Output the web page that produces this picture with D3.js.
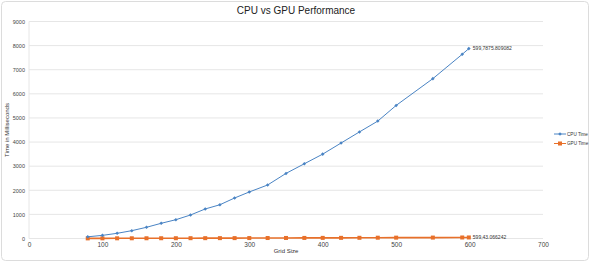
<!DOCTYPE html>
<html>
<head>
<meta charset="utf-8">
<script src="https://cdn.jsdelivr.net/npm/d3@7"></script>
<style>
  body { margin: 0; background: #fff; }
  text { font-family: "Liberation Sans", Arial, sans-serif; }
</style>
</head>
<body>
<svg id="chart" width="593" height="264"></svg>
<script>
const gridSizes = [80, 100, 120, 140, 160, 180, 200, 220, 240, 260, 280, 300, 325, 350, 375, 400, 425, 450, 475, 500, 550, 590, 599];
const cpuTimes = [70, 130, 215, 325, 465, 630, 780, 975, 1225, 1400, 1680, 1930, 2220, 2700, 3100, 3500, 3960, 4420, 4870, 5520, 6630, 7640, 7875.809082];
const gpuTimes = [5, 7, 8, 9, 10, 11, 12, 13, 14, 15, 16, 18, 20, 22, 24, 26, 27, 29, 33, 35, 38, 42, 43.066242];
const xTicks = [0, 100, 200, 300, 400, 500, 600, 700];
const yTicks = [0, 1000, 2000, 3000, 4000, 5000, 6000, 7000, 8000, 9000];

const series = [
  { name: 'CPU Time', values: cpuTimes, color: '#4a84c4', marker: 'diamond' },
  { name: 'GPU Time', values: gpuTimes, color: '#e8702a', marker: 'square' }
];

const svg = d3.select('#chart');

// outer frame
svg.append('rect')
  .attr('x', 1.5).attr('y', 1.5)
  .attr('width', 587).attr('height', 259)
  .attr('rx', 4)
  .attr('fill', '#fff')
  .attr('stroke', '#dcdcdc');

const x = d3.scaleLinear().domain([0, 700]).range([29, 543]);
const y = d3.scaleLinear().domain([0, 9000]).range([238.5, 21.5]);

// horizontal grid
svg.append('g')
  .selectAll('line')
  .data(yTicks)
  .join('line')
  .attr('x1', x(0)).attr('x2', x(700))
  .attr('y1', d => y(d)).attr('y2', d => y(d))
  .attr('stroke', '#e6e6e6')
  .attr('stroke-width', 1);

svg.append('line')
  .attr('x1', x(0)).attr('x2', x(0))
  .attr('y1', y(9000)).attr('y2', y(0))
  .attr('stroke', '#e6e6e6');

// axes (labels only)
const yAxis = svg.append('g')
  .attr('transform', `translate(${x(0)},0)`)
  .call(d3.axisLeft(y).tickValues(yTicks).tickFormat(d3.format('d')).tickSize(0).tickPadding(4));
yAxis.select('.domain').remove();
yAxis.selectAll('text').attr('font-size', 5.5).attr('fill', '#444')
  .attr('font-family', '"Liberation Sans", Arial, sans-serif');

const xAxis = svg.append('g')
  .attr('transform', `translate(0,${y(0)})`)
  .call(d3.axisBottom(x).tickValues(xTicks).tickFormat(d3.format('d')).tickSize(0).tickPadding(4));
xAxis.select('.domain').remove();
xAxis.selectAll('text').attr('font-size', 6.5).attr('fill', '#444')
  .attr('font-family', '"Liberation Sans", Arial, sans-serif');

// titles
svg.append('text')
  .attr('x', 296).attr('y', 13.5)
  .attr('text-anchor', 'middle')
  .attr('font-size', 10)
  .attr('fill', '#222')
  .text('CPU vs GPU Performance');

svg.append('text')
  .attr('x', 286).attr('y', 253)
  .attr('text-anchor', 'middle')
  .attr('font-size', 6)
  .attr('fill', '#333')
  .text('Grid Size');

svg.append('text')
  .attr('transform', 'translate(9,130) rotate(-90)')
  .attr('text-anchor', 'middle')
  .attr('font-size', 6)
  .attr('fill', '#333')
  .text('Time in Milliseconds');

const line = d3.line()
  .x((d, i) => x(gridSizes[i]))
  .y(d => y(d));

const diamond = d3.symbol().type(d3.symbolDiamond2 || d3.symbolDiamond).size(8);

function drawMarker(sel, s, cx, cy) {
  if (s.marker === 'square') {
    sel.append('rect')
      .attr('x', cx - 2).attr('y', cy - 2)
      .attr('width', 4).attr('height', 4)
      .attr('fill', s.color);
  } else {
    sel.append('path')
      .attr('d', diamond())
      .attr('transform', `translate(${cx},${cy})`)
      .attr('fill', s.color);
  }
}

// draw GPU first so CPU sits on top
[...series].reverse().forEach(s => {
  const g = svg.append('g');
  g.append('path')
    .datum(s.values)
    .attr('d', line)
    .attr('fill', 'none')
    .attr('stroke', s.color)
    .attr('stroke-width', s.marker === 'square' ? 1.6 : 1);
  s.values.forEach((v, i) => drawMarker(g, s, x(gridSizes[i]), y(v)));

  const last = s.values.length - 1;
  g.append('text')
    .attr('x', x(gridSizes[last]) + 4)
    .attr('y', y(s.values[last]) + 1.8)
    .attr('font-size', 5)
    .attr('fill', '#333')
    .text(`${gridSizes[last]},${s.values[last]}`);
});

// legend
const legend = svg.append('g').attr('transform', 'translate(554,134)');
series.forEach((s, i) => {
  const row = legend.append('g').attr('transform', `translate(0,${i * 9.5})`);
  row.append('line')
    .attr('x1', 0).attr('x2', 12)
    .attr('stroke', s.color).attr('stroke-width', 1);
  drawMarker(row, s, 6, 0);
  row.append('text')
    .attr('x', 13).attr('y', 1.6)
    .attr('font-size', 4.6)
    .attr('fill', '#333')
    .text(s.name);
});
</script>
</body>
</html>
